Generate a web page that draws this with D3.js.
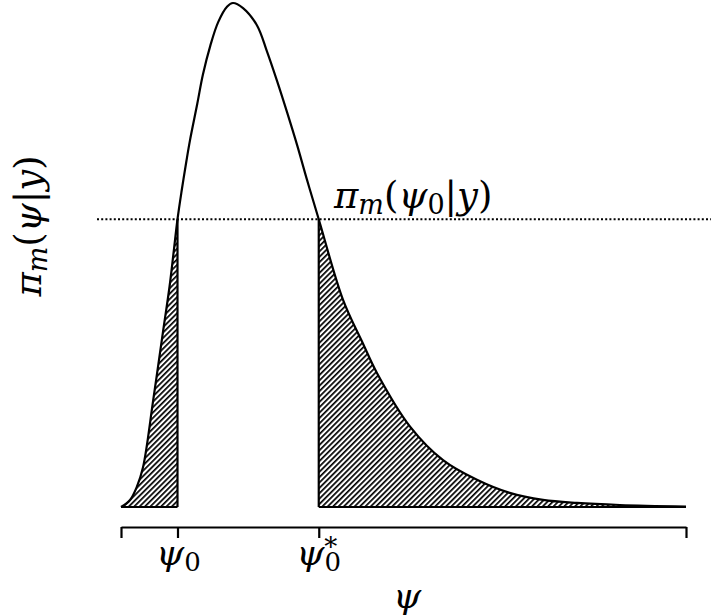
<!DOCTYPE html>
<meta charset="utf-8">
<style>
    body { margin: 0; background: #fff; }
    text { font-family: "DejaVu Serif", serif; fill: #000; }
    .it { font-style: italic; }
</style>
<svg width="711" height="616"></svg>
<script src="https://d3js.org/d3.v7.min.js"></script>
<script>

    // density (psi, height)
    var psi = [0, 0.16, 0.28, 0.39, 0.57, 0.74, 0.86, 0.93, 1.00, 1.07, 1.16, 1.22, 1.35, 1.45, 1.58, 1.72, 1.88, 1.98,
               2.16, 2.41, 2.58, 2.76, 2.94, 3.12, 3.29, 3.50,
               3.93, 4.28, 4.53, 5.12, 5.70, 6.30, 6.88, 7.47, 8.07, 8.83, 10.0],
        dens = [0, 0.014, 0.04, 0.079, 0.212, 0.345, 0.438, 0.504, 0.571, 0.625, 0.688, 0.727, 0.800, 0.858, 0.915, 0.962, 0.993, 1.0,
                0.990, 0.955, 0.905, 0.846, 0.783, 0.717, 0.650, 0.571,
                0.411, 0.325, 0.266, 0.159, 0.093, 0.054, 0.028, 0.014, 0.008, 0.004, 0.001];

    var psi0 = 1.0, psi0star = 3.5, level = 0.571;
    var tickValues = [0, psi0, psi0star, 10];

    var data = psi.map(function (p, i) { return [p, dens[i]]; });

    var svg = d3.select("svg");

    var x = d3.scaleLinear().domain([0, 10]).range([121, 686]);
    var y = d3.scaleLinear().domain([0, 1]).range([507, 3]);

    // hatch pattern
    var defs = svg.append("defs");
    defs.append("pattern")
        .attr("id", "hatch")
        .attr("patternUnits", "userSpaceOnUse")
        .attr("width", 3.8).attr("height", 3.8)
        .attr("patternTransform", "rotate(45)")
        .append("rect")
        .attr("x", 0).attr("y", 0).attr("width", 1.7).attr("height", 3.8)
        .attr("fill", "#000");

    var clip = defs.append("clipPath").attr("id", "tails");
    clip.append("rect")
        .attr("x", x(0)).attr("y", 0)
        .attr("width", x(psi0) - x(0)).attr("height", y(0));
    clip.append("rect")
        .attr("x", x(psi0star)).attr("y", 0)
        .attr("width", x(10) - x(psi0star)).attr("height", y(0));

    var curve = d3.curveCatmullRom.alpha(0.5);

    var area = d3.area()
        .curve(curve)
        .x(function (d) { return x(d[0]); })
        .y0(y(0))
        .y1(function (d) { return y(d[1]); });

    var line = d3.line()
        .curve(curve)
        .x(function (d) { return x(d[0]); })
        .y(function (d) { return y(d[1]); });

    svg.append("path")
        .attr("d", area(data))
        .attr("fill", "url(#hatch)")
        .attr("clip-path", "url(#tails)");

    // edges of the shaded tails
    [[0, psi0], [psi0star, 10]].forEach(function (r) {
        svg.append("line")
            .attr("x1", x(r[0])).attr("x2", x(r[1]))
            .attr("y1", y(0)).attr("y2", y(0))
            .attr("stroke", "#000").attr("stroke-width", 2.2);
    });
    [psi0, psi0star].forEach(function (p) {
        svg.append("line")
            .attr("x1", x(p)).attr("x2", x(p))
            .attr("y1", y(0)).attr("y2", y(level))
            .attr("stroke", "#000").attr("stroke-width", 2.2);
    });

    svg.append("path")
        .attr("d", line(data))
        .attr("fill", "none")
        .attr("stroke", "#000")
        .attr("stroke-width", 2.2);

    // dotted level line
    svg.append("line")
        .attr("x1", 97).attr("x2", 711)
        .attr("y1", y(level)).attr("y2", y(level))
        .attr("stroke", "#000")
        .attr("stroke-width", 2)
        .attr("stroke-dasharray", "2,2.2");

    // axis
    var axis = svg.append("g")
        .attr("transform", "translate(0,527)")
        .call(d3.axisBottom(x).tickValues(tickValues).tickSize(11).tickSizeOuter(0).tickFormat(""));
    axis.selectAll("path, line").attr("stroke", "#000").attr("stroke-width", 2.2);

    // tick labels
    var t1 = svg.append("text").attr("x", x(psi0) + 1).attr("y", 565).attr("text-anchor", "middle").style("font-size", "36px");
    t1.append("tspan").attr("class", "it").text("ψ");
    t1.append("tspan").attr("dy", 6).style("font-size", "26px").text("0");

    var t2 = svg.append("text").attr("x", x(psi0star)).attr("y", 565).attr("text-anchor", "middle").style("font-size", "36px");
    t2.append("tspan").attr("class", "it").text("ψ");
    t2.append("tspan").attr("dy", 6).style("font-size", "26px").text("0");
    svg.append("text").attr("x", x(psi0star) + 12).attr("y", 556)
        .attr("text-anchor", "middle").style("font-size", "26px").text("*");

    // x label
    svg.append("text").attr("class", "it").attr("x", 407).attr("y", 608)
        .attr("text-anchor", "middle").style("font-size", "36px").text("ψ");

    // level label
    var lab = svg.append("text").attr("x", 334).attr("y", 208).style("font-size", "37px");
    lab.append("tspan").attr("class", "it").text("π");
    lab.append("tspan").attr("class", "it").attr("dy", 6).style("font-size", "27px").text("m");
    lab.append("tspan").attr("dy", -6).text("(");
    lab.append("tspan").attr("class", "it").text("ψ");
    lab.append("tspan").attr("dy", 6).style("font-size", "27px").text("0");
    lab.append("tspan").attr("dy", -6).text("|");
    lab.append("tspan").attr("class", "it").text("y");
    lab.append("tspan").text(")");

    // y label
    var ylab = svg.append("text")
        .attr("transform", "translate(41,226) rotate(-90)")
        .attr("text-anchor", "middle").style("font-size", "37px");
    ylab.append("tspan").attr("class", "it").text("π");
    ylab.append("tspan").attr("class", "it").attr("dy", 6).style("font-size", "27px").text("m");
    ylab.append("tspan").attr("dy", -6).text("(");
    ylab.append("tspan").attr("class", "it").text("ψ");
    ylab.append("tspan").text("|");
    ylab.append("tspan").attr("class", "it").text("y");
    ylab.append("tspan").text(")");

</script>
